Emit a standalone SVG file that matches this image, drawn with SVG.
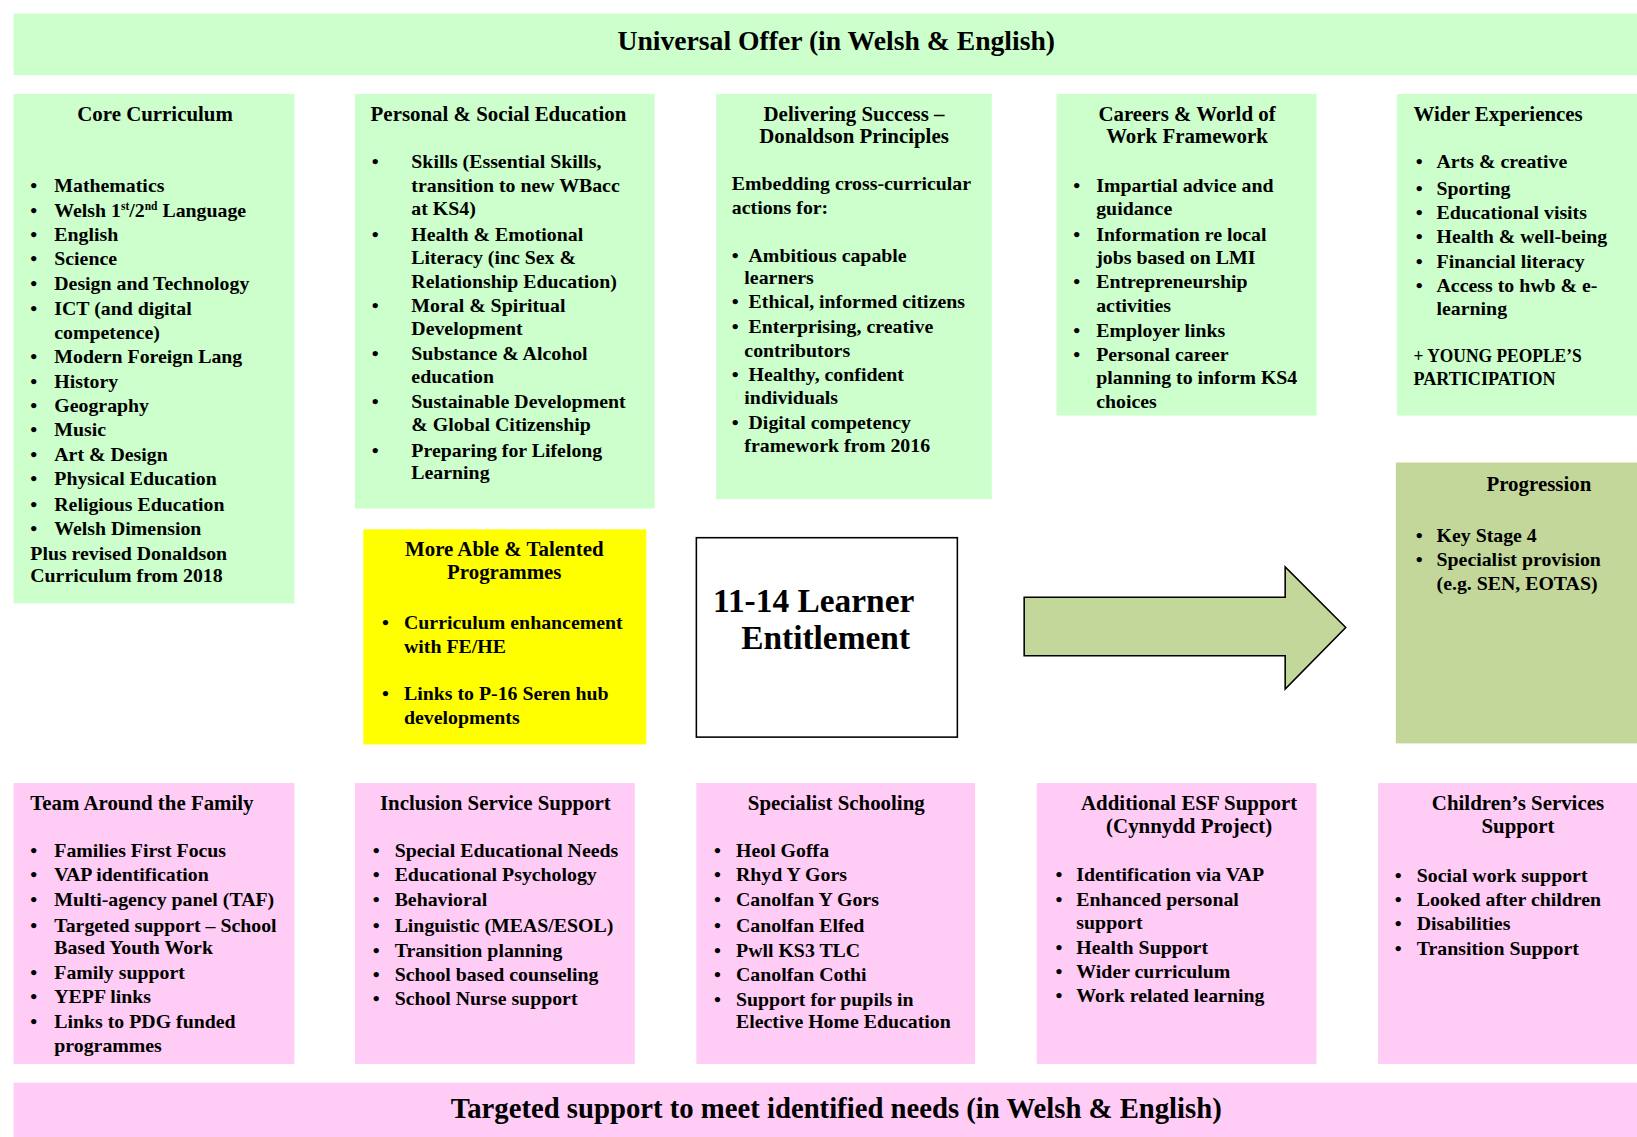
<svg xmlns="http://www.w3.org/2000/svg" width="1637" height="1137" viewBox="0 0 1637 1137">
<style>
text { font-family: "Liberation Serif", "Times New Roman", serif; font-weight: bold; fill: #000; font-size: 19px; }
.h { font-size: 20px; }
.c { text-anchor: middle; }
.ban { font-size: 26.5px; }
.ban2 { font-size: 27.5px; }
.xl { font-size: 32px; }
.g { fill: #CCFFCC; }
.p { fill: #FFCCF5; }
.sup { font-size: 11px; }
</style>
<rect width="1637" height="1137" fill="#FFFFFF"/>
<g transform="scale(1.04401,1.04408)">
<g id="universal-offer">
<rect class="g" x="13" y="13" width="1555" height="59"/>
<text class="ban c" x="801" y="48">Universal Offer (in Welsh &amp; English)</text>
</g>
<g id="core-curriculum">
<rect class="g" x="13" y="90" width="269" height="488"/>
<text class="h c" x="148.5" y="116">Core Curriculum</text>
<text x="29" y="184">•</text><text x="52" y="184">Mathematics</text>
<text x="29" y="208">•</text><text x="52" y="208">Welsh 1<tspan class="sup" dy="-7">st</tspan><tspan dy="7">/2</tspan><tspan class="sup" dy="-7">nd</tspan><tspan dy="7"> Language</tspan></text>
<text x="29" y="231">•</text><text x="52" y="231">English</text>
<text x="29" y="254">•</text><text x="52" y="254">Science</text>
<text x="29" y="278">•</text><text x="52" y="278">Design and Technology</text>
<text x="29" y="302">•</text><text x="52" y="302">ICT (and digital</text>
<text x="52" y="325">competence)</text>
<text x="29" y="348">•</text><text x="52" y="348">Modern Foreign Lang</text>
<text x="29" y="372">•</text><text x="52" y="372">History</text>
<text x="29" y="395">•</text><text x="52" y="395">Geography</text>
<text x="29" y="418">•</text><text x="52" y="418">Music</text>
<text x="29" y="442">•</text><text x="52" y="442">Art &amp; Design</text>
<text x="29" y="465">•</text><text x="52" y="465">Physical Education</text>
<text x="29" y="489">•</text><text x="52" y="489">Religious Education</text>
<text x="29" y="512">•</text><text x="52" y="512">Welsh Dimension</text>
<text x="29" y="536">Plus revised Donaldson</text>
<text x="29" y="557">Curriculum from 2018</text>
</g>
<g id="personal-social-education">
<rect class="g" x="340" y="90" width="287" height="397"/>
<text class="h" x="355" y="116">Personal &amp; Social Education</text>
<text x="356" y="161">•</text><text x="394" y="161">Skills (Essential Skills,</text>
<text x="394" y="184">transition to new WBacc</text>
<text x="394" y="206">at KS4)</text>
<text x="356" y="231">•</text><text x="394" y="231">Health &amp; Emotional</text>
<text x="394" y="253">Literacy (inc Sex &amp;</text>
<text x="394" y="276">Relationship Education)</text>
<text x="356" y="299">•</text><text x="394" y="299">Moral &amp; Spiritual</text>
<text x="394" y="321">Development</text>
<text x="356" y="345">•</text><text x="394" y="345">Substance &amp; Alcohol</text>
<text x="394" y="367">education</text>
<text x="356" y="391">•</text><text x="394" y="391">Sustainable Development</text>
<text x="394" y="413">&amp; Global Citizenship</text>
<text x="356" y="438">•</text><text x="394" y="438">Preparing for Lifelong</text>
<text x="394" y="459">Learning</text>
</g>
<g id="delivering-success">
<rect class="g" x="686" y="90" width="264" height="388"/>
<text class="h c" x="818" y="116">Delivering Success –</text>
<text class="h c" x="818" y="137">Donaldson Principles</text>
<text x="701" y="182">Embedding cross-curricular</text>
<text x="701" y="205">actions for:</text>
<text x="701" y="251">•</text><text x="717" y="251">Ambitious capable</text>
<text x="713" y="272">learners</text>
<text x="701" y="295">•</text><text x="717" y="295">Ethical, informed citizens</text>
<text x="701" y="319">•</text><text x="717" y="319">Enterprising, creative</text>
<text x="713" y="342">contributors</text>
<text x="701" y="365">•</text><text x="717" y="365">Healthy, confident</text>
<text x="713" y="387">individuals</text>
<text x="701" y="411">•</text><text x="717" y="411">Digital competency</text>
<text x="713" y="433">framework from 2016</text>
</g>
<g id="careers">
<rect class="g" x="1012" y="90" width="249" height="308"/>
<text class="h c" x="1137" y="116">Careers &amp; World of</text>
<text class="h c" x="1137" y="137">Work Framework</text>
<text x="1028" y="184">•</text><text x="1050" y="184">Impartial advice and</text>
<text x="1050" y="206">guidance</text>
<text x="1028" y="231">•</text><text x="1050" y="231">Information re local</text>
<text x="1050" y="253">jobs based on LMI</text>
<text x="1028" y="276">•</text><text x="1050" y="276">Entrepreneurship</text>
<text x="1050" y="299">activities</text>
<text x="1028" y="323">•</text><text x="1050" y="323">Employer links</text>
<text x="1028" y="346">•</text><text x="1050" y="346">Personal career</text>
<text x="1050" y="368">planning to inform KS4</text>
<text x="1050" y="391">choices</text>
</g>
<g id="wider-experiences">
<rect class="g" x="1338" y="90" width="230" height="308"/>
<text class="h" x="1354" y="116">Wider Experiences</text>
<text x="1356" y="161">•</text><text x="1376" y="161">Arts &amp; creative</text>
<text x="1356" y="187">•</text><text x="1376" y="187">Sporting</text>
<text x="1356" y="210">•</text><text x="1376" y="210">Educational visits</text>
<text x="1356" y="233">•</text><text x="1376" y="233">Health &amp; well-being</text>
<text x="1356" y="257">•</text><text x="1376" y="257">Financial literacy</text>
<text x="1356" y="280">•</text><text x="1376" y="280">Access to hwb &amp; e-</text>
<text x="1376" y="302">learning</text>
<text x="1354" y="347" textLength="161" lengthAdjust="spacingAndGlyphs">+ YOUNG PEOPLE’S</text>
<text x="1354" y="369" textLength="136" lengthAdjust="spacingAndGlyphs">PARTICIPATION</text>
</g>
<g id="progression">
<rect x="1337" y="443" width="231" height="269" fill="#C4D79B"/>
<text class="h c" x="1474" y="470">Progression</text>
<text x="1356" y="519">•</text><text x="1376" y="519">Key Stage 4</text>
<text x="1356" y="542">•</text><text x="1376" y="542">Specialist provision</text>
<text x="1376" y="565">(e.g. SEN, EOTAS)</text>
</g>
<g id="more-able">
<rect x="348" y="507" width="271" height="206" fill="#FFFF00"/>
<text class="h c" x="483" y="533">More Able &amp; Talented</text>
<text class="h c" x="483" y="555">Programmes</text>
<text x="366" y="602">•</text><text x="387" y="602">Curriculum enhancement</text>
<text x="387" y="625">with FE/HE</text>
<text x="366" y="670">•</text><text x="387" y="670">Links to P-16 Seren hub</text>
<text x="387" y="693">developments</text>
</g>
<g id="learner-entitlement">
<rect x="667" y="515" width="250" height="191" fill="#FFFFFF" stroke="#000" stroke-width="1.5"/>
<text class="xl" x="683" y="586">11-14 Learner</text>
<text class="xl" x="710" y="622">Entitlement</text>
</g>
<g id="connectors">
<polygon points="981,572 1231,572 1231,543 1289,601 1231,660 1231,628 981,628" fill="#C4D79B" stroke="#000" stroke-width="1.5" stroke-linejoin="miter"/>
</g>
<g id="team-around-family">
<rect class="p" x="13" y="750" width="269" height="269"/>
<text class="h" x="29" y="776">Team Around the Family</text>
<text x="29" y="821">•</text><text x="52" y="821">Families First Focus</text>
<text x="29" y="844">•</text><text x="52" y="844">VAP identification</text>
<text x="29" y="868">•</text><text x="52" y="868">Multi-agency panel (TAF)</text>
<text x="29" y="893">•</text><text x="52" y="893">Targeted support – School</text>
<text x="52" y="914">Based Youth Work</text>
<text x="29" y="938">•</text><text x="52" y="938">Family support</text>
<text x="29" y="961">•</text><text x="52" y="961">YEPF links</text>
<text x="29" y="985">•</text><text x="52" y="985">Links to PDG funded</text>
<text x="52" y="1008">programmes</text>
</g>
<g id="inclusion-service">
<rect class="p" x="340" y="750" width="268" height="269"/>
<text class="h c" x="474.5" y="776">Inclusion Service Support</text>
<text x="357" y="821">•</text><text x="378" y="821">Special Educational Needs</text>
<text x="357" y="844">•</text><text x="378" y="844">Educational Psychology</text>
<text x="357" y="868">•</text><text x="378" y="868">Behavioral</text>
<text x="357" y="893">•</text><text x="378" y="893">Linguistic (MEAS/ESOL)</text>
<text x="357" y="917">•</text><text x="378" y="917">Transition planning</text>
<text x="357" y="940">•</text><text x="378" y="940">School based counseling</text>
<text x="357" y="963">•</text><text x="378" y="963">School Nurse support</text>
</g>
<g id="specialist-schooling">
<rect class="p" x="667" y="750" width="267" height="269"/>
<text class="h c" x="801" y="776">Specialist Schooling</text>
<text x="684" y="821">•</text><text x="705" y="821">Heol Goffa</text>
<text x="684" y="844">•</text><text x="705" y="844">Rhyd Y Gors</text>
<text x="684" y="868">•</text><text x="705" y="868">Canolfan Y Gors</text>
<text x="684" y="893">•</text><text x="705" y="893">Canolfan Elfed</text>
<text x="684" y="917">•</text><text x="705" y="917">Pwll KS3 TLC</text>
<text x="684" y="940">•</text><text x="705" y="940">Canolfan Cothi</text>
<text x="684" y="964">•</text><text x="705" y="964">Support for pupils in</text>
<text x="705" y="985">Elective Home Education</text>
</g>
<g id="additional-esf">
<rect class="p" x="993" y="750" width="268" height="269"/>
<text class="h c" x="1139" y="776">Additional ESF Support</text>
<text class="h c" x="1139" y="798">(Cynnydd Project)</text>
<text x="1011" y="844">•</text><text x="1031" y="844">Identification via VAP</text>
<text x="1011" y="868">•</text><text x="1031" y="868">Enhanced personal</text>
<text x="1031" y="890">support</text>
<text x="1011" y="914">•</text><text x="1031" y="914">Health Support</text>
<text x="1011" y="937">•</text><text x="1031" y="937">Wider curriculum</text>
<text x="1011" y="960">•</text><text x="1031" y="960">Work related learning</text>
</g>
<g id="childrens-services">
<rect class="p" x="1320" y="750" width="248" height="269"/>
<text class="h c" x="1454" y="776">Children’s Services</text>
<text class="h c" x="1454" y="798">Support</text>
<text x="1336" y="845">•</text><text x="1357" y="845">Social work support</text>
<text x="1336" y="868">•</text><text x="1357" y="868">Looked after children</text>
<text x="1336" y="891">•</text><text x="1357" y="891">Disabilities</text>
<text x="1336" y="915">•</text><text x="1357" y="915">Transition Support</text>
</g>
<g id="targeted-support">
<rect class="p" x="13" y="1037" width="1555" height="52"/>
<text class="ban2 c" x="801" y="1071">Targeted support to meet identified needs (in Welsh &amp; English)</text>
</g>
</g>
</svg>
